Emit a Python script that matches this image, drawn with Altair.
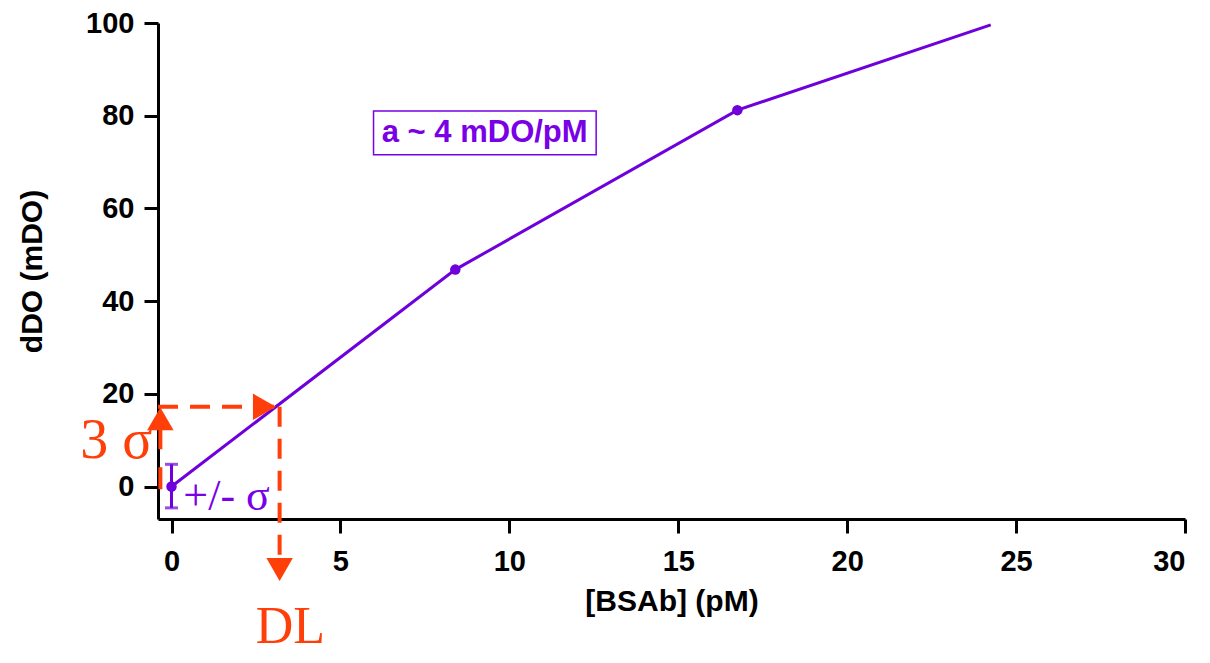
import altair as alt
import pandas as pd

# calibration data
conc = [0, 8.4, 16.75, 24.25]
signal = [0, 46.8, 81.2, 99.6]
dot_conc = [0, 8.4, 16.75]
dot_signal = [0, 46.8, 81.2]

# error bar at blank
err_x = [0]
err_lo = [-4.6]
err_hi = [4.8]

# detection limit construction
three_sigma = 17.2
dl_conc = 3.2
axis_left = -0.4
dl_bottom = -15.0
sig_x = -0.33
sig_bottom = -0.6

x_ticks = [0, 5, 10, 15, 20, 25, 30]
y_ticks = [0, 20, 40, 60, 80, 100]

PURPLE = "#6E00DC"
TEXT_PURPLE = "#7A00E6"
RED = "#FF3F0A"

xs = alt.Scale(domain=[-0.4, 30], nice=False, zero=False)
ys = alt.Scale(domain=[-7, 100], nice=False, zero=False)

curve = pd.DataFrame({"x": conc, "y": signal})
dots = pd.DataFrame({"x": dot_conc, "y": dot_signal})
err = pd.DataFrame({"x": err_x, "lo": err_lo, "hi": err_hi})

base_x = alt.X("x:Q", scale=xs, title="[BSAb] (pM)",
               axis=alt.Axis(values=x_ticks, format="d"))
base_y = alt.Y("y:Q", scale=ys, title="dDO (mDO)",
               axis=alt.Axis(values=y_ticks, format="d"))

line = alt.Chart(curve).mark_line(color=PURPLE, strokeWidth=3).encode(x=base_x, y=base_y)
pts = alt.Chart(dots).mark_point(filled=True, color=PURPLE, size=110, opacity=1).encode(
    x=alt.X("x:Q", scale=xs), y=alt.Y("y:Q", scale=ys))

err_rule = alt.Chart(err).mark_rule(color=PURPLE, strokeWidth=3).encode(
    x=alt.X("x:Q", scale=xs), y=alt.Y("lo:Q", scale=ys), y2="hi:Q")
err_caps = alt.Chart(pd.DataFrame({"x": err_x * 2, "y": err_lo + err_hi})).mark_tick(
    color=PURPLE, orient="horizontal", size=13, thickness=3).encode(
    x=alt.X("x:Q", scale=xs), y=alt.Y("y:Q", scale=ys))

hdash = pd.DataFrame({"x": [axis_left], "x2": [dl_conc], "y": [three_sigma]})
h_line = alt.Chart(hdash).mark_rule(color=RED, strokeWidth=4, strokeDash=[20, 12]).encode(
    x=alt.X("x:Q", scale=xs), x2="x2:Q", y=alt.Y("y:Q", scale=ys))
vdash = pd.DataFrame({"x": [dl_conc], "y": [three_sigma], "y2": [dl_bottom]})
v_line = alt.Chart(vdash).mark_rule(color=RED, strokeWidth=4, strokeDash=[20, 12]).encode(
    x=alt.X("x:Q", scale=xs), y=alt.Y("y:Q", scale=ys), y2="y2:Q")
sdash = pd.DataFrame({"x": [sig_x], "y": [sig_bottom], "y2": [13.0]})
s_line = alt.Chart(sdash).mark_rule(color=RED, strokeWidth=4, strokeDash=[22, 18]).encode(
    x=alt.X("x:Q", scale=xs), y=alt.Y("y:Q", scale=ys), y2="y2:Q")

arrows = pd.DataFrame({
    "x": [2.75, dl_conc, sig_x],
    "y": [three_sigma, -17.9, 14.6],
    "shape": ["triangle-right", "triangle-down", "triangle-up"],
})
arrow_marks = alt.Chart(arrows).mark_point(filled=True, color=RED, size=700, opacity=1).encode(
    x=alt.X("x:Q", scale=xs), y=alt.Y("y:Q", scale=ys),
    shape=alt.Shape("shape:N", scale=None))

red_labels = pd.DataFrame({"x": [-1.63, 3.52], "y": [9.8, -30.3], "t": ["3 σ", "DL"],
                           "s": [56, 52]})
red_text = alt.Chart(red_labels).mark_text(color=RED, font="Liberation Serif",
                                           align="center", baseline="middle").encode(
    x=alt.X("x:Q", scale=xs), y=alt.Y("y:Q", scale=ys), text="t:N",
    size=alt.Size("s:Q", scale=None))

pm_label = pd.DataFrame({"x": [0.35], "y": [-2.3], "t": ["+/- σ"]})
pm_text = alt.Chart(pm_label).mark_text(color=TEXT_PURPLE, font="Liberation Serif", fontSize=44,
                                        align="left", baseline="middle").encode(
    x=alt.X("x:Q", scale=xs), y=alt.Y("y:Q", scale=ys), text="t:N")

box = pd.DataFrame({"x": [5.98], "x2": [12.57], "y": [81.0], "y2": [71.6]})
box_mark = alt.Chart(box).mark_rect(fill="white", stroke=TEXT_PURPLE, strokeWidth=1.5).encode(
    x=alt.X("x:Q", scale=xs), x2="x2:Q", y=alt.Y("y:Q", scale=ys), y2="y2:Q")
ann = pd.DataFrame({"x": [9.27], "y": [76.3], "t": ["a ~ 4 mDO/pM"]})
ann_text = alt.Chart(ann).mark_text(color=TEXT_PURPLE, font="Liberation Sans", fontWeight="bold",
                                    fontSize=31, align="center", baseline="middle").encode(
    x=alt.X("x:Q", scale=xs), y=alt.Y("y:Q", scale=ys), text="t:N")

chart = alt.layer(
    line, box_mark, ann_text, h_line, v_line, s_line, arrow_marks,
    err_rule, err_caps, pts, red_text, pm_text,
).properties(
    width=1027, height=496,
    autosize=alt.AutoSizeParams(type="none"),
    padding={"left": 150, "top": 15, "right": 17, "bottom": 136},
).configure_view(stroke=None).configure_axis(
    grid=False, domainColor="black", domainWidth=3, tickColor="black", tickWidth=3,
    tickSize=14, labelFont="Liberation Sans", labelFontWeight="bold", labelFontSize=29,
    labelColor="black", titleFont="Liberation Sans", titleFontWeight="bold",
    titleFontSize=30, titleColor="black",
).configure_axisX(labelPadding=14, titlePadding=10).configure_axisY(
    labelPadding=10, titlePadding=38)

chart.save("out.html", embed_options={"renderer": "svg", "actions": False})
